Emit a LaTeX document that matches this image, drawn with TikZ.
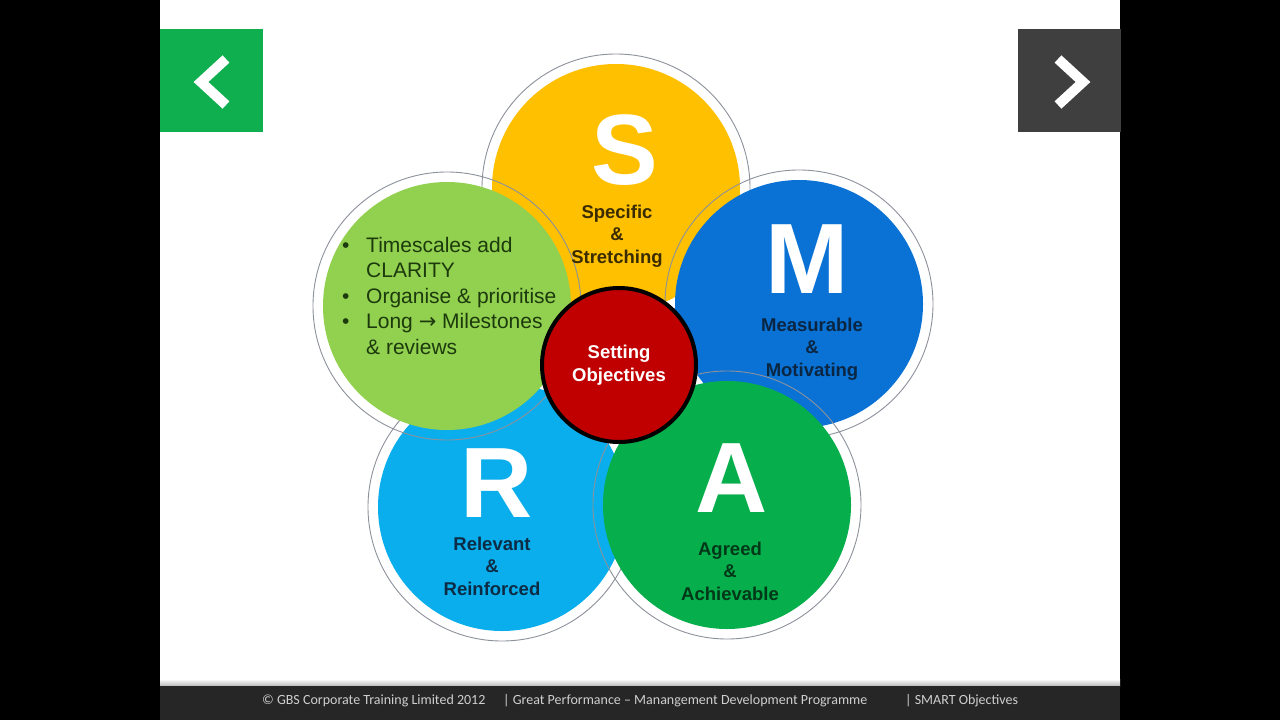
\documentclass[tikz,border=0pt]{standalone}
\usepackage{fontspec}
\setmainfont{Liberation Sans}
\newfontfamily\footfont{Carlito}
\newfontfamily\arrowfont{DejaVu Sans}
\usetikzlibrary{positioning}

\definecolor{smartS}{HTML}{FFC000}
\definecolor{smartM}{HTML}{0A72D4}
\definecolor{smartA}{HTML}{06AE4C}
\definecolor{smartR}{HTML}{0BAEEC}
\definecolor{smartT}{HTML}{92D050}
\definecolor{hubred}{HTML}{C00000}
\definecolor{ringgray}{HTML}{8C919B}
\definecolor{navgreen}{HTML}{0FAF4F}
\definecolor{navgray}{HTML}{3F3F3F}
\definecolor{footbar}{HTML}{262626}
\definecolor{foottext}{HTML}{CFCFCF}
\definecolor{txtS}{HTML}{3A2C00}
\definecolor{txtM}{HTML}{0B2642}
\definecolor{txtA}{HTML}{003818}
\definecolor{txtR}{HTML}{0B2C44}
\definecolor{txtT}{HTML}{1C3A0C}

\newcommand{\bul}{\makebox[24pt][l]{•}}

\begin{document}
\begin{tikzpicture}[x=1pt, y=-1pt,
    disc/.style={circle, inner sep=0pt, minimum size=248pt},
    ring/.style={circle, draw=ringgray, line width=0.9pt, inner sep=0pt, minimum size=268pt},
    letter/.style={text=white, inner sep=0pt, font=\fontsize{100}{100}\selectfont\bfseries},
    sublabel/.style={align=center, inner sep=0pt, font=\fontsize{18.5}{22.5}\selectfont\bfseries},
    bullets/.style={align=left, inner sep=0pt, text=txtT, font=\fontsize{21}{25.5}\selectfont},
    navbox/.style={rectangle, inner sep=0pt, minimum width=103pt, minimum height=103pt},
    chev/.style={white, line width=10pt, line join=miter},
    foot/.style={anchor=west, inner sep=0pt, text=foottext, font=\footfont\fontsize{14}{16}\selectfont}
]
\useasboundingbox (0,0) rectangle (1280,720);
\fill[black] (0,0) rectangle (1280,720);
\fill[white] (160,0) rectangle (1120,686);
\shade[top color=white, bottom color=gray!55] (160,679) rectangle (1120,686);
\fill[footbar] (160,686) rectangle (1120,720);

% navigation buttons
\node[navbox, fill=navgreen] (prev) at (211.5,80.5) {};
\node[navbox, fill=navgray] (next) at (1069,80.5) {};
\draw[chev] ([shift={(14.5,-21.5)}]prev.center) -- ([shift={(-10.5,1.5)}]prev.center) -- ([shift={(14.5,24.5)}]prev.center);
\draw[chev] ([shift={(-11,-21.5)}]next.center) -- ([shift={(14,1.5)}]next.center) -- ([shift={(-11,24.5)}]next.center);

% five circles, back to front
\node[disc, fill=smartS] (S) at (616,188) {};
\node[ring] (Sring) at (S) {};
\node[disc, fill=smartR] (R) at (502,507) {};
\node[ring] (Rring) at (R) {};
\node[disc, fill=smartM] (M) at (799,304) {};
\node[ring] (Mring) at (M) {};
\node[disc, fill=smartA] (A) at (727,505) {};
\node[ring] (Aring) at (A) {};
\node[disc, fill=smartT] (T) at (447,306) {};
\node[ring] (Tring) at (T) {};

\node[letter] (Sl) at (625,150) {S};
\node[letter] (Ml) at (807,259) {M};
\node[letter] (Al) at (732,478) {A};
\node[letter] (Rl) at (497,483) {R};

\node[sublabel, text=txtS] (Stxt) at (617,236) {Specific\\\&\\Stretching};
\node[sublabel, text=txtM] (Mtxt) at (812,349) {Measurable\\\&\\Motivating};
\node[sublabel, text=txtA] (Atxt) at (730,571) {Agreed\\\&\\Achievable};
\node[sublabel, text=txtR] (Rtxt) at (492,566) {Relevant\\\&\\Reinforced};

\node[bullets, anchor=north west] (Tlist) at (342,237) {%
  \bul Timescales add\\
  \hspace*{24pt}CLARITY\\
  \bul Organise \& prioritise\\
  \bul Long {\arrowfont\fontsize{21}{20}\selectfont →} Milestones\\
  \hspace*{24pt}\& reviews};

% hub
\node[circle, fill=hubred, draw=black, line width=4pt, minimum size=154pt, inner sep=0pt] (hub) at (619,365) {};
\node[sublabel, text=white, font=\fontsize{18.5}{23}\selectfont\bfseries] (hubtxt) at (hub) {Setting\\Objectives};

% footer
\node[foot] (f1) at (262,701) {© GBS Corporate Training Limited 2012};
\node[foot] (f2) at (503,701) {| Great Performance – Manangement Development Programme};
\node[foot] (f3) at (905,701) {| SMART Objectives};
\end{tikzpicture}
\end{document}
